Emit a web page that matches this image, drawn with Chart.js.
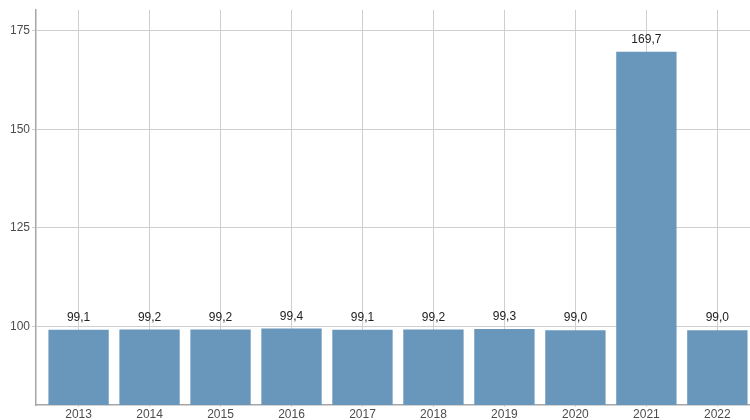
<!DOCTYPE html>
<html>
<head>
<meta charset="utf-8">
<script src="https://cdn.jsdelivr.net/npm/chart.js@4"></script>
<style>
html,body{margin:0;padding:0;background:#fff;overflow:hidden;}
#wrap{width:750px;height:420px;}
</style>
</head>
<body>
<div id="wrap"><canvas id="c" width="750" height="420"></canvas></div>
<script>
const years = ["2013","2014","2015","2016","2017","2018","2019","2020","2021","2022"];
const values = [99.1, 99.2, 99.2, 99.4, 99.1, 99.2, 99.3, 99.0, 169.7, 99.0];
const yTicks = [100, 125, 150, 175];

const labelPlugin = {
  id: 'valueLabels',
  afterDatasetsDraw(chart) {
    const ctx = chart.ctx;
    const meta = chart.getDatasetMeta(0);
    ctx.save();
    ctx.font = '12px "Liberation Sans", Arial, sans-serif';
    ctx.fillStyle = '#222';
    ctx.textAlign = 'center';
    ctx.textBaseline = 'middle';
    meta.data.forEach((bar, i) => {
      const txt = values[i].toFixed(1).replace('.', ',');
      ctx.fillText(txt, bar.x, bar.y - 12);
    });
    ctx.restore();
  }
};

new Chart(document.getElementById('c'), {
  type: 'bar',
  data: {
    datasets: [{
      data: values.map((v, i) => ({x: i, y: v})),
      backgroundColor: '#6897bb',
      borderWidth: 0,
      barPercentage: 0.85,
      categoryPercentage: 1.0
    }]
  },
  options: {
    responsive: false,
    animation: false,
    devicePixelRatio: 1,
    layout: {padding: {top: 10, right: 0, left: 0, bottom: 0}},
    plugins: {legend: {display: false}, tooltip: {enabled: false}},
    scales: {
      x: {
        type: 'linear',
        offset: false,
        min: -0.6,
        max: 9.46,
        afterBuildTicks(scale) { scale.ticks = years.map((_, i) => ({value: i})); },
        afterFit(scale) { scale.height = 15; },
        ticks: {
          autoSkip: false,
          maxRotation: 0,
          padding: 0,
          color: '#4d4d4d',
          font: {family: '"Liberation Sans", Arial, sans-serif', size: 12},
          callback: (v) => years[v] ?? ''
        },
        grid: {offset: false, color: '#cfcfcf', lineWidth: 1, tickLength: 2, drawTicks: true},
        border: {display: true, color: '#a6a6a6', width: 1.5}
      },
      y: {
        min: 80,
        max: 180.3,
        afterBuildTicks(scale) { scale.ticks = yTicks.map(v => ({value: v})); },
        afterFit(scale) { scale.width = 36; },
        ticks: {
          padding: 2,
          color: '#4d4d4d',
          font: {family: '"Liberation Sans", Arial, sans-serif', size: 12}
        },
        grid: {color: '#cfcfcf', lineWidth: 1, tickLength: 4, drawTicks: true},
        border: {display: true, color: '#a6a6a6', width: 1.5}
      }
    }
  },
  plugins: [labelPlugin]
});
</script>
</body>
</html>
